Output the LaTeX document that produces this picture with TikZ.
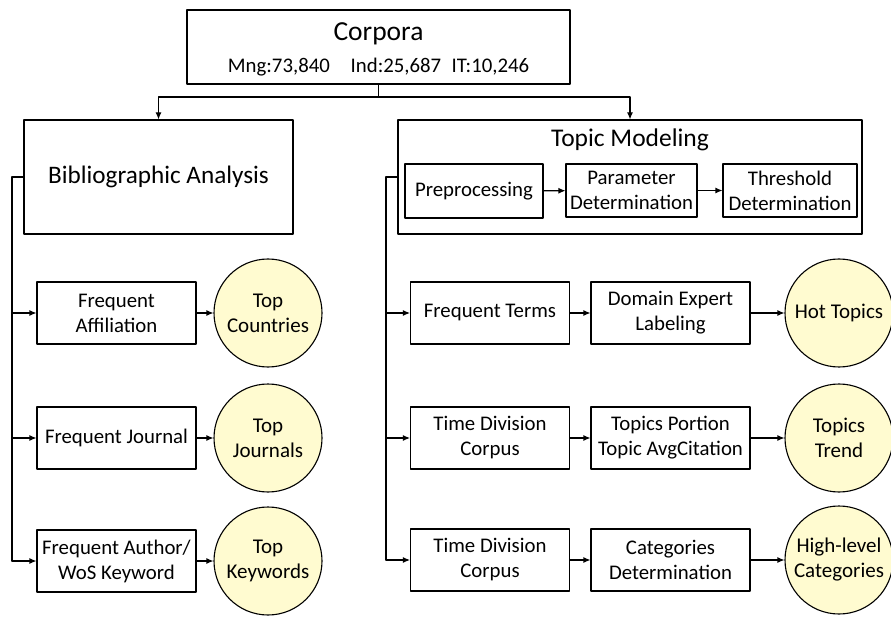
\documentclass[tikz,border=0pt]{standalone}
\usepackage{fontspec}
\setmainfont{Carlito}
\usetikzlibrary{arrows.meta}

\begin{document}
\begin{tikzpicture}[line cap=round,line join=round,x=1pt,y=-1pt,line width=1.1pt,
  >={Latex[length=7pt,width=6pt]},
  box/.style={draw,rectangle,align=center,inner sep=0pt,font=\fontsize{20.8}{25}\selectfont},
  topic/.style={draw,circle,align=center,inner sep=0pt,minimum size=108pt,fill=cyellow,font=\fontsize{21}{25}\selectfont}]
\definecolor{cyellow}{RGB}{255,251,208}
\useasboundingbox (0,0) rectangle (891,617);
\clip (0,0) rectangle (891,617);
% top
\node [box,minimum width=383pt,minimum height=74pt] (corpora) at (378.5,47) {};
\node [font=\fontsize{27.5}{30}\selectfont] (ctitle) at (378.5,34) {Corpora};
\node [font=\fontsize{20.8}{24}\selectfont] (cnum) at (378.5,67.5) {Mng:73,840\quad Ind:25,687\enspace IT:10,246};
\node [box,minimum width=269pt,minimum height=114pt,font=\fontsize{25.2}{28}\selectfont] (bib) at (158.5,177) {Bibliographic Analysis};
\node [box,minimum width=464pt,minimum height=114pt] (tm) at (630,177) {};
\node [font=\fontsize{25.5}{28}\selectfont] (tmtitle) at (630,140) {Topic Modeling};
\node [box,minimum width=138pt,minimum height=54pt] (pre) at (474,191) {Preprocessing};
\node [box,minimum width=131pt,minimum height=53pt] (par) at (631.5,190.5) {Parameter\\Determination};
\node [box,minimum width=134pt,minimum height=53pt] (thr) at (790,190.5) {Threshold\\Determination};
\draw (corpora.south) -- (378.5,97) coordinate (split);
\draw [->] (split) -| (bib.north);
\draw [->] (split) -| (tm.north);
\draw [->] (pre) -- (par);
\draw [->] (par) -- (thr);
% bibliographic analysis
\node [box,minimum width=159pt,minimum height=62pt] (faff) at (116.5,313) {Frequent\\Affiliation};
\node [box,minimum width=159pt,minimum height=62pt] (fjou) at (116.5,438) {Frequent Journal};
\node [box,minimum width=159pt,minimum height=62pt] (fkey) at (116.5,561) {Frequent Author/\\WoS Keyword};
\node [topic] (tcou) at (268,313) {Top\\Countries};
\node [topic] (tjou) at (268,438) {Top\\Journals};
\node [topic] (tkey) at (268,561) {Top\\Keywords};
\coordinate (lb) at (12,177);
\draw (bib.west) -- (lb) -- (lb |- fkey.west);
\draw [->] (lb |- faff.west) -- (faff.west);
\draw [->] (lb |- fjou.west) -- (fjou.west);
\draw [->] (lb |- fkey.west) -- (fkey.west);
\draw [->] (faff) -- (tcou);
\draw [->] (fjou) -- (tjou);
\draw [->] (fkey) -- (tkey);
% topic modeling
\node [box,minimum width=159pt,minimum height=62pt] (fter) at (490,313) {Frequent Terms};
\node [box,minimum width=159pt,minimum height=62pt] (tdc) at (490,438) {Time Division\\Corpus};
\node [box,minimum width=159pt,minimum height=62pt] (tdcb) at (490,560) {Time Division\\Corpus};
\node [box,minimum width=159pt,minimum height=62pt] (del) at (670.5,313) {Domain Expert\\Labeling};
\node [box,minimum width=159pt,minimum height=62pt] (tpa) at (670.5,438) {Topics Portion\\Topic AvgCitation};
\node [box,minimum width=159pt,minimum height=62pt] (cdet) at (670.5,560) {Categories\\Determination};
\node [topic] (hot) at (839,313) {Hot Topics};
\node [topic] (trend) at (839,438) {Topics\\Trend};
\node [topic] (hlc) at (839,560) {High-level\\Categories};
\coordinate (rb) at (386,177);
\draw (tm.west) -- (rb) -- (rb |- tdcb.west);
\draw [->] (rb |- fter.west) -- (fter.west);
\draw [->] (rb |- tdc.west) -- (tdc.west);
\draw [->] (rb |- tdcb.west) -- (tdcb.west);
\draw [->] (fter) -- (del);
\draw [->] (tdc) -- (tpa);
\draw [->] (tdcb) -- (cdet);
\draw [->] (del) -- (hot);
\draw [->] (tpa) -- (trend);
\draw [->] (cdet) -- (hlc);
\end{tikzpicture}
\end{document}
